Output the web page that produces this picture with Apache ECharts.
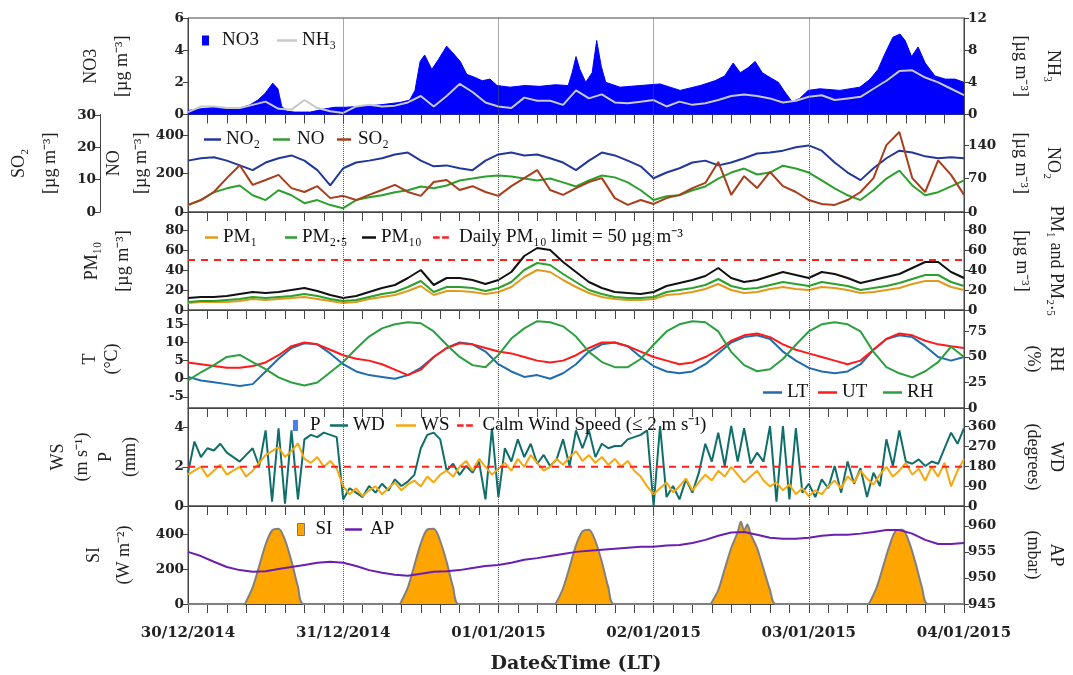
<!DOCTYPE html>
<html><head><meta charset="utf-8">
<script src="https://cdn.jsdelivr.net/npm/echarts@6/dist/echarts.min.js"></script>
<style>html,body{margin:0;padding:0;background:#fff}#c{width:1073px;height:675px}</style>
</head><body><div id="c"></div>
<script>
// ---------- DATA ----------
const dateLabels = ['30/12/2014','31/12/2014','01/01/2015','02/01/2015','03/01/2015','04/01/2015'];
const dayBoundaries = [24,48,72,96];
const xLabelHours = [0,24,48,72,96,120];
const xTickHours = Array.from({length:41},(_,i)=>i*3);
const hours2 = Array.from({length:61},(_,i)=>i*2);   // 2-hourly time grid (h since 30/12/2014 00:00)
const hours1 = Array.from({length:121},(_,i)=>i);    // hourly time grid

const no3Hours = [0,1.9,4.2,6.5,8,9.6,10.8,11.9,13.1,13.9,14.5,15.3,16.5,18.9,21.2,22.7,24.3,26.6,29.7,32.8,34.3,35.1,35.9,36.6,37.7,38.7,40,40.8,42.1,43.1,44.4,45.5,46.7,47.8,49.8,52.1,54.4,56.8,58.8,59.4,60,60.6,61.5,62.5,63.2,63.9,64.6,66.8,69.9,73,76.1,79.2,81.5,83,84.3,85.4,86.6,87.7,88.8,90,91.3,92.3,93.4,94.6,95.9,97.7,100.8,103.9,105.5,106.7,107.8,109,110.1,110.9,111.9,112.9,114,115.5,117.1,118.6,120];
const no3 = [0.25,0.35,0.45,0.35,0.4,0.6,0.9,1.3,1.95,1.6,0.5,0.2,0.15,0.15,0.35,0.45,0.45,0.5,0.6,0.75,0.9,1.5,3.3,3.7,2.8,3.4,4.25,3.9,3.3,2.5,2.3,2.1,2.2,1.8,1.7,1.8,1.75,1.85,1.8,2.6,3.6,2.8,2.0,2.6,4.6,3.0,2.0,1.7,1.8,1.9,1.5,1.8,2.1,2.4,3.2,2.6,2.9,3.3,2.6,2.3,2.0,1.4,0.8,1.0,1.5,1.6,1.5,1.7,2.2,2.8,3.8,4.8,5.0,4.6,3.6,4.2,3.2,2.4,2.2,2.2,2.0];
const nh3 = [0.3,1.0,1.0,0.8,0.8,1.2,1.6,0.7,0.6,1.8, 0.8,0.4,0.2,1.0,1.2,1.0,1.1,1.5,2.3,1.0, 2.3,3.8,2.8,1.5,1.0,0.8,2.1,1.7,1.7,1.2, 3.0,2.0,2.5,1.5,1.4,1.6,1.8,1.0,1.6,1.2, 1.4,1.8,2.3,2.5,2.3,2.0,1.5,1.7,2.2,2.4, 1.8,2.0,2.2,3.2,4.2,5.4,5.5,4.6,4.0,3.2, 2.4];
const no2 = [108,113,115,108,98,88,104,113,119,108, 88,56,92,104,108,113,121,125,108,96, 98,92,88,108,121,125,119,121,113,104, 88,108,125,119,108,96,71,83,92,104, 108,98,104,113,123,125,129,136,140,129, 104,83,67,92,113,129,125,117,113,115, 113];
const no = [36,62,103,123,138,87,62,113,87,46, 62,36,20,62,77,87,103,113,133,123, 138,164,174,185,190,185,174,164,174,154, 133,164,190,180,154,113,62,82,87,113, 133,174,205,226,195,205,241,226,205,164, 123,87,62,113,174,215,138,87,103,133, 164];
const so2 = [2.2,3.7,6.2,10.5,14.5,8.4,9.9,11.5,7.4,6.2, 8,4.3,5,3.7,5.3,6.8,8.4,6.2,5,9.3, 9.9,6.8,8,6.2,5,8,10.5,13,6.8,5.3, 7.4,9.3,10.5,4.3,2.2,3.7,2.5,4.3,5.3,7.4, 9,15.5,5.3,11.1,7.4,12.4,8,6.2,3.7,2.5, 2.2,3.7,6.2,10.5,20.7,24.8,10.5,6.2,16,11.5, 5.3];
const pm10 = [12,13,13,14,16,18,17,18,20,22, 19,15,12,14,18,22,25,32,40,25, 32,32,30,26,30,38,54,62,60,48, 38,28,22,18,17,16,18,24,27,30, 34,42,32,28,30,34,38,35,32,38, 36,32,27,30,33,36,42,48,48,38, 32];
const pm25 = [8,9,9,10,11,13,12,13,14,16, 14,11,9,10,13,16,18,23,29,18, 23,23,22,19,22,28,40,47,45,36, 28,20,16,13,12,12,13,18,20,22, 25,31,24,21,22,25,28,26,24,28, 26,24,20,22,24,27,31,35,35,28, 24];
const pm1 = [7,8,8,8,9,11,10,11,12,13, 11,9,7,8,11,13,15,19,24,15, 19,19,18,16,18,23,33,40,38,30, 23,17,13,11,10,10,11,15,16,18, 21,26,20,17,18,21,23,21,20,23, 22,20,17,18,20,22,26,29,29,23, 20];
const pmLimit = 50;
const lt = [0.5,-0.5,-1,-1.5,-2,-1.5,2,5.5,8.5,9.8, 9.5,7,4,2,1,0.5,0,1,3,6, 8.5,10,9.5,7.5,4,2,0.5,1,0,1.5, 4,7.5,9.5,10,9,6,3.5,2,1.5,2, 4,7,10,11.5,12,11,7.5,5,3,2, 1.5,2,4,8,11,12,11.5,9,6,5, 6];
const ut = [4.5,4,3.5,3,3,3.5,4.5,6.5,9,10, 9.5,8,6.5,5.5,5,4,2.5,1,2.5,6, 8.5,9.8,9.5,8.5,7.5,7,6,5,4.5,5, 6.5,8.5,10,10,9,7.5,6,5,4,4.5, 6,8,10.5,12,12.5,11.5,9.5,8,7,6, 5,4,5,8,11,12.5,12,10.5,9.5,9, 8.5];
const rh = [27,35,42,50,52,45,38,30,25,22, 25,35,45,58,70,78,82,84,83,75, 62,50,42,40,52,68,78,85,84,80, 70,55,45,40,40,48,62,75,82,85, 84,75,55,42,36,38,48,62,75,82, 84,82,75,55,40,34,30,36,45,60, 50];
const wd = [150,290,220,260,250,280,240,220,200,230, 260,180,340,20,350,10,340,30,300,320, 310,330,320,310,30,80,60,40,90,60, 100,70,120,90,110,140,260,320,330,300, 160,190,140,180,150,200,30,350,40,260, 200,300,220,280,190,230,180,210,300,180, 340,260,340,220,280,260,270,270,300,310, 320,340,0,360,40,90,30,120,60,150, 280,200,330,180,360,200,350,190,240,200, 360,20,360,30,350,60,100,40,120,80, 180,60,200,100,170,40,150,90,300,180, 340,200,190,210,180,200,190,260,330,280, 350];
const ws = [1.6,1.8,2.0,1.5,1.8,2.1,1.6,1.8,2.0,1.5, 1.8,2.2,2.6,2.8,3.0,2.5,2.8,3.2,2.4,2.2, 2.5,2.0,2.3,1.9,1.0,0.6,0.9,0.5,0.8,1.0, 0.6,0.9,1.2,0.8,1.1,1.3,1.0,1.5,1.2,1.6, 1.8,1.5,2.0,2.3,1.8,2.4,2.0,1.6,1.9,2.2, 1.8,2.4,2.0,2.6,2.2,1.8,2.0,2.4,2.1,2.5, 2.8,2.3,2.6,2.2,2.5,2.1,2.4,2.0,2.3,1.8, 1.5,1.0,0.6,0.9,1.2,0.7,1.0,1.4,0.8,1.2, 1.6,1.3,1.8,1.5,2.0,1.6,1.2,1.5,1.8,1.3, 1.0,1.2,0.8,1.1,0.6,0.9,0.5,0.8,0.6,1.0, 1.3,0.9,1.5,1.2,1.8,1.4,1.1,1.6,2.0,1.5, 1.8,2.2,1.6,1.9,1.3,2.0,1.5,2.2,1.0,1.8, 2.4];
const calmWS = 2;
const precip = [];
const siHours = [0, 8.7,9,10,11,12,13,14,15,16,17,17.9, 32.7,33,34,35,36,37,38,39,40,41,41.9, 56.7,57,58,59,60,61,62,63,64,65,65.9, 80.8,81,82,83,84,85,85.5,86,86.5,87,88,89,90,90.9, 105.2,105.5,106.5,107.5,108.5,109.5,110.5,111.5,112.5,113.5,114.4, 120];
const siValues = [0, 0,15,95,215,340,420,430,365,245,100,0, 0,15,95,220,345,425,430,360,240,95,0, 0,12,90,210,335,415,425,360,240,95,0, 0,10,80,200,320,410,470,420,455,400,320,200,80,0, 0,15,95,215,335,420,425,355,235,95,0, 0];
const ap = [955,954.2,953.1,952.1,951.5,951.2,951.3,951.7,952.1,952.5, 952.9,953.1,952.9,952.3,951.5,951,950.6,950.4,950.8,951.2, 951.3,951.5,951.9,952.3,952.5,952.9,953.5,953.8,954.2,954.6, 955,955.2,955.4,955.6,955.8,956,956,956.2,956.3,956.7, 957.3,958.1,958.7,958.8,958.3,957.7,957.5,957.5,957.7,958.1, 958.3,958.3,958.5,958.8,959.2,959.2,958.5,957.3,956.5,956.5, 956.7];

// tick labels
const ticksNO3 = [0,2,4,6], ticksNH3 = [0,4,8,12];
const ticksNO = [0,200,400], ticksNO2 = [0,70,140], ticksSO2 = [0,10,20,30];
const ticksPM = [0,20,40,60,80];
const ticksT = [-5,0,5,10,15], ticksRH = [0,25,50,75];
const ticksWS = [0,2,4], ticksWD = [0,90,180,270,360];
const ticksSI = [0,200,400], ticksAP = [945,950,955,960];

// ---------- CHART ----------
const TICKFONT = 'DejaVu Serif';
const FONT = 'Liberation Serif';
const zip = (h, v) => h.map((x,i)=>[x, v[i]]);
const panels = [[18,96.5],[114.5,97.5],[212,98],[310,98],[408,98],[506,98]];
const grid = panels.map(p=>({left:188, right:109, top:p[0], height:p[1], show:true, borderColor:'#444', borderWidth:1, outerBoundsMode:'none', containLabel:false}));
const xAxis = panels.map((p,i)=>({
  type:'value', gridIndex:i, min:0, max:120, interval:3,
  axisLine:{show:true, onZero:false, lineStyle:{color:'#444'}},
  axisTick:{show:true, customValues:xTickHours, length:9, lineStyle:{color:'#444'}},
  axisLabel:{show:i===5, customValues:xLabelHours, formatter:v=>dateLabels[Math.round(v/24)], fontFamily:TICKFONT, fontWeight:'bold', fontSize:15, color:'#222', margin:22},
  splitLine:{show:false},
  name: i===5 ? 'Date&Time (LT)' : '', nameLocation:'middle', nameGap:51,
  nameTextStyle:{fontFamily:TICKFONT, fontWeight:'bold', fontSize:19, color:'#222'}
}));
function yAx(gi, pos, min, max, ticks, name, gap, lh, extra){
  return Object.assign({
    type:'value', gridIndex:gi, position:pos, min, max,
    axisLine:{show:true, onZero:false, lineStyle:{color:'#444'}},
    axisTick:{show:true, customValues:ticks, length:5, lineStyle:{color:'#444'}},
    axisLabel:{customValues:ticks, fontFamily:TICKFONT, fontWeight:'bold', fontSize:13.5, color:'#222', margin:4},
    splitLine:{show:false},
    name, nameLocation:'middle', nameGap:gap, nameRotate: pos==='left'?90:-90, nameMoveOverlap:false,
    nameTextStyle:{fontFamily:FONT, fontSize:18, color:'#222', lineHeight:lh}
  }, extra||{});
}
const U = '[µg m⁻³]';
const yAxis = [
  yAx(0,'left',0,6,ticksNO3,'NO3\n'+U,50,31),
  yAx(0,'right',0,12,ticksNH3,'NH₃\n'+U,41,32),
  yAx(1,'left',0,507,ticksNO,'NO\n'+U,33,27),
  yAx(1,'right',0,205,ticksNO2,'NO₂\n'+U,41,32),
  yAx(1,'left',0,30.2,ticksSO2,'SO₂\n'+U,34,31,{offset:88}),
  yAx(2,'left',0,98,ticksPM,'PM₁₀\n'+U,49,31),
  yAx(2,'right',0,98,ticksPM,'PM₁ and PM₂.₅\n'+U,41,34),
  yAx(3,'left',-8.1,19,ticksT,'T\n(°C)',65,22),
  yAx(3,'right',0,96,ticksRH,'RH\n(%)',57,23),
  yAx(4,'left',0,5,ticksWS,'WS\n(m s⁻¹)\nP\n(mm)',46,24),
  yAx(4,'right',0,441,ticksWD,'WD\n(degrees)',57,23),
  yAx(5,'left',0,560,ticksSI,'SI\n(W m⁻²)',49,30),
  yAx(5,'right',945,963.8,ticksAP,'AP\n(mbar)',57,23)
];
const dayLine = {silent:true, symbol:['none','none'], label:{show:false}, animation:false,
  lineStyle:{type:'dotted', color:'#555', width:1}, data: dayBoundaries.map(h=>({xAxis:h}))};
function line(name, xi, yi, data, color, width, extra){
  return Object.assign({name, type:'line', xAxisIndex:xi, yAxisIndex:yi, data, symbol:'none', showSymbol:false,
    lineStyle:{color, width}, itemStyle:{color}, animation:false}, extra||{});
}
const series = [
  line('NO3',0,0,zip(no3Hours,no3),'#0000ff',1,{areaStyle:{color:'#0000ff',opacity:1}, markLine:dayLine}),
  line('NH₃',0,1,zip(hours2,nh3),'#c8c8c8',2),
  line('NO₂',1,3,zip(hours2,no2),'#22379a',2,{markLine:dayLine}),
  line('NO',1,2,zip(hours2,no),'#2ca02c',2),
  line('SO₂',1,4,zip(hours2,so2),'#a83e1c',2),
  line('Daily PM₁₀ limit = 50 µg m⁻³',2,5,[[0,pmLimit],[120,pmLimit]],'#ff2020',2,{lineStyle:{color:'#ff2020',width:2,type:[7,6]}, markLine:dayLine}),
  line('PM₁',2,5,zip(hours2,pm1),'#e39a1c',2),
  line('PM₂.₅',2,5,zip(hours2,pm25),'#2ca02c',2),
  line('PM₁₀',2,5,zip(hours2,pm10),'#111111',2),
  line('LT',3,7,zip(hours2,lt),'#1f6db0',2,{markLine:dayLine}),
  line('UT',3,7,zip(hours2,ut),'#ff1a1a',2),
  line('RH',3,8,zip(hours2,rh),'#2ca040',2),
  {name:'P', type:'bar', xAxisIndex:4, yAxisIndex:9, data:precip, itemStyle:{color:'#4a7ff0'}, animation:false},
  line('WD',4,10,zip(hours1,wd),'#0f6e6a',2,{markLine:dayLine}),
  line('WS',4,9,zip(hours1,ws),'#f5a80f',2),
  line('Calm Wind Speed (≤ 2 m s⁻¹)',4,9,[[0,calmWS],[120,calmWS]],'#ff2020',2,{lineStyle:{color:'#ff2020',width:2,type:[7,6]}}),
  line('SI',5,11,zip(siHours,siValues),'#808080',2,{smooth:0.3, itemStyle:{color:'#ffa500'}, areaStyle:{color:'#ffa500',opacity:1}, markLine:dayLine}),
  line('AP',5,12,zip(hours2,ap),'#6a1fb0',2)
];
const DASH_ICON = 'path://M0,0 H8 V3 H0 Z M11,0 H19 V3 H11 Z';
// one legend per entry: name, icon-left, centre-y, icon width, icon height, extra
function li(name, left, cy, w, h, extra){
  const e = extra || {};
  return {left, top: cy-10, data:[e.icon ? {name, icon:e.icon, itemStyle:e.itemStyle} : name], selectedMode:false,
    icon:'rect', itemWidth:w, itemHeight:h, padding:0,
    textStyle:{fontFamily:FONT, fontSize:19, color:'#111', padding:[0,0,0,e.pad||0]}};
}
const legend = [
  li('NO3',202,41,7,10,{pad:8}),
  li('NH₃',277,41,20,2.5),
  li('NO₂',204,140,17,2.5),
  li('NO',273,140,17,2.5,{pad:2}),
  li('SO₂',337,140,14,2.5,{pad:2}),
  li('PM₁',205,238,13,2.5),
  li('PM₂.₅',285,238,12,2.5),
  li('PM₁₀',362,238,14,2.5),
  li('Daily PM₁₀ limit = 50 µg m⁻³',433,238,18,2.5,{icon:DASH_ICON,pad:4}),
  li('LT',763,393,19,2.5),
  li('UT',818,393,19,2.5),
  li('RH',883,393,19,2.5),
  li('P',293,426,5,11,{icon:'rect',pad:7}),
  li('WD',330,426,18,2.5),
  li('WS',396,426,20,2.5),
  li('Calm Wind Speed (≤ 2 m s⁻¹)',457,426,19,2.5,{icon:DASH_ICON,pad:3}),
  li('SI',297,530,7,12,{icon:'rect',pad:6,itemStyle:{color:'#ffa500',borderColor:'#777',borderWidth:1}}),
  li('AP',345,530,17,2.5,{pad:3})
];
const chart = echarts.init(document.getElementById('c'), null, {renderer:'canvas'});
chart.setOption({animation:false, backgroundColor:'#fff', grid, xAxis, yAxis, series, legend});
</script></body></html>
